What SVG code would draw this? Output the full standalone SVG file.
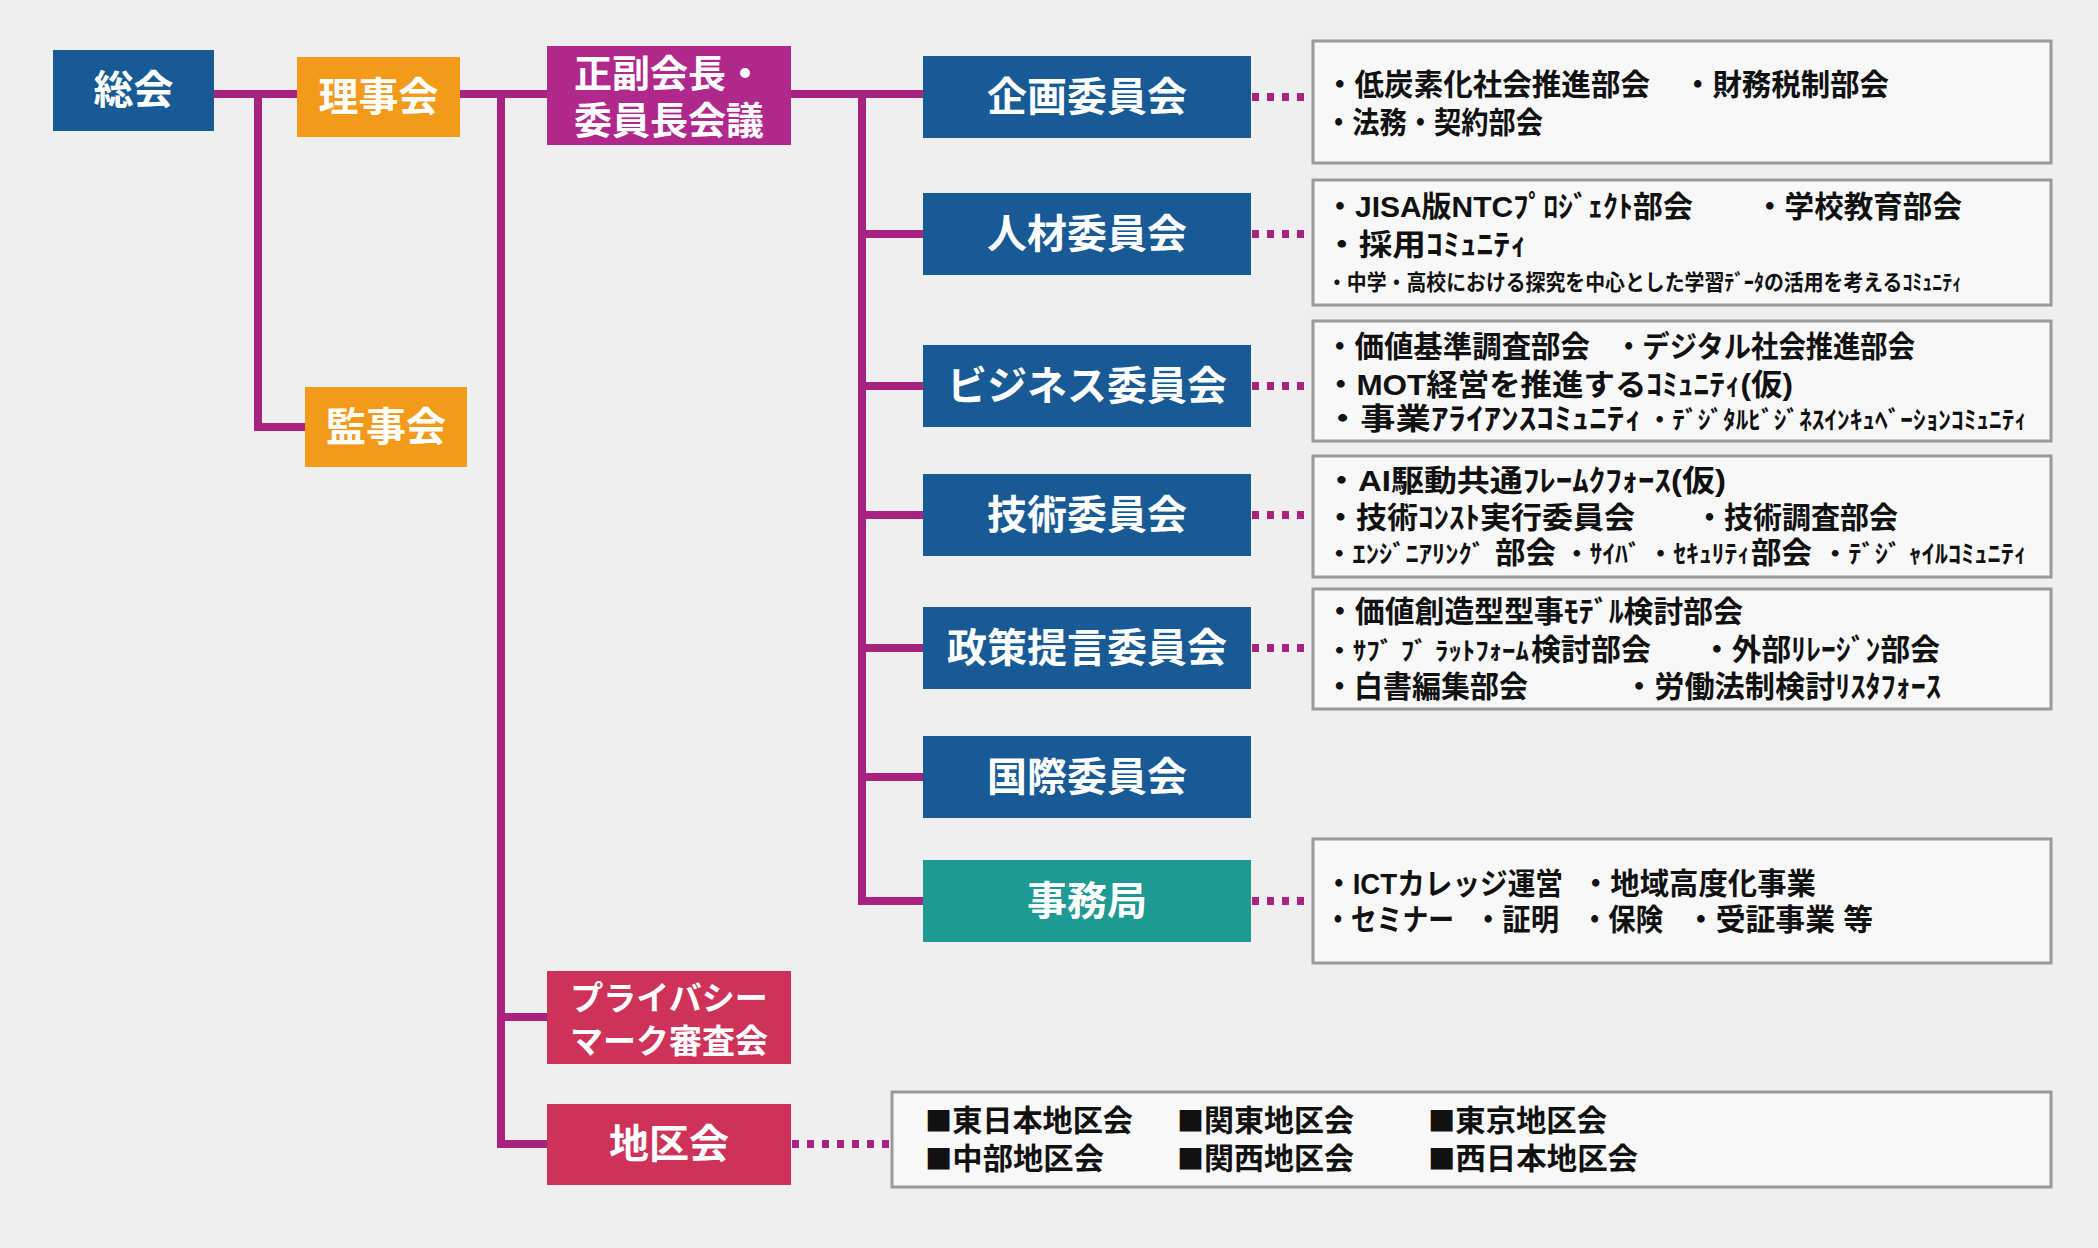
<svg xmlns="http://www.w3.org/2000/svg" width="2098" height="1248" viewBox="0 0 2098 1248">
<style>
.lbl{font-family:"Liberation Sans","Noto Sans CJK JP",sans-serif;font-weight:700;fill:#ffffff;text-anchor:middle}
.blue{fill:#185a96}
.orange{fill:#f39a1b}
.mag{fill:#b0288c}
.teal{fill:#1f9a93}
.red{fill:#cf3259}
.ln{stroke:#a8237f;stroke-width:8;fill:none;stroke-linejoin:miter}
.dot{stroke:#a8237f;stroke-width:8;fill:none;stroke-dasharray:7 8}
.box{fill:#f8f8f8;stroke:#9a9a9a;stroke-width:3}
.t{font-family:"Liberation Sans","Noto Sans CJK JP",sans-serif;font-weight:700;fill:#111111;font-size:30px}
.s{font-size:25px}
.xs{font-size:22px}
.sq{font-family:"Noto Sans CJK JP",sans-serif;font-size:27px}
</style>
<rect x="0" y="0" width="2098" height="1248" fill="#efefef"/>

<g id="connectors">
  <path class="ln" d="M214 94 H923"/>
  <path class="ln" d="M258 94 V427 H305"/>
  <path class="ln" d="M501 94 V1144 H547"/>
  <path class="ln" d="M501 1017 H547"/>
  <path class="ln" d="M862 94 V901 H923"/>
  <path class="ln" d="M862 234 H923"/>
  <path class="ln" d="M862 386 H923"/>
  <path class="ln" d="M862 515 H923"/>
  <path class="ln" d="M862 648 H923"/>
  <path class="ln" d="M862 777 H923"/>
  <path class="dot" d="M1252 97 H1313"/>
  <path class="dot" d="M1252 234 H1313"/>
  <path class="dot" d="M1252 386 H1313"/>
  <path class="dot" d="M1252 515 H1313"/>
  <path class="dot" d="M1252 648 H1313"/>
  <path class="dot" d="M1252 901 H1313"/>
  <path class="dot" d="M792 1144 H892"/>
</g>

<g id="n-soukai"><rect class="blue" x="53" y="50" width="161" height="81"/><text class="lbl" x="133.5" y="104" font-size="40">総会</text></g>
<g id="n-rijikai"><rect class="orange" x="297" y="57" width="163" height="80"/><text class="lbl" x="378.5" y="111" font-size="40">理事会</text></g>
<g id="n-seifuku"><rect class="mag" x="547" y="46" width="244" height="99"/><text class="lbl" x="669" y="87" font-size="38">正副会長・</text><text class="lbl" x="669" y="134" font-size="38">委員長会議</text></g>
<g id="n-kanjikai"><rect class="orange" x="305" y="387" width="162" height="80"/><text class="lbl" x="386" y="441" font-size="40">監事会</text></g>

<g id="n-kikaku"><rect class="blue" x="923" y="56" width="328" height="82"/><text class="lbl" x="1087" y="111" font-size="40">企画委員会</text></g>
<g id="n-jinzai"><rect class="blue" x="923" y="193" width="328" height="82"/><text class="lbl" x="1087" y="248" font-size="40">人材委員会</text></g>
<g id="n-business"><rect class="blue" x="923" y="345" width="328" height="82"/><text class="lbl" x="1087" y="400" font-size="40">ビジネス委員会</text></g>
<g id="n-gijutsu"><rect class="blue" x="923" y="474" width="328" height="82"/><text class="lbl" x="1087" y="529" font-size="40">技術委員会</text></g>
<g id="n-seisaku"><rect class="blue" x="923" y="607" width="328" height="82"/><text class="lbl" x="1087" y="662" font-size="40">政策提言委員会</text></g>
<g id="n-kokusai"><rect class="blue" x="923" y="736" width="328" height="82"/><text class="lbl" x="1087" y="791" font-size="40">国際委員会</text></g>
<g id="n-jimukyoku"><rect class="teal" x="923" y="860" width="328" height="82"/><text class="lbl" x="1087" y="915" font-size="40">事務局</text></g>

<g id="n-privacy"><rect class="red" x="547" y="971" width="244" height="93"/><text class="lbl" x="669" y="1010" font-size="33">プライバシー</text><text class="lbl" x="669" y="1053" font-size="33">マーク審査会</text></g>
<g id="n-chiku"><rect class="red" x="547" y="1104" width="244" height="81"/><text class="lbl" x="669" y="1158" font-size="40">地区会</text></g>

<g id="d-kikaku">
  <rect class="box" x="1313" y="41" width="738" height="122"/>
  <text class="t" x="1325" y="95" textLength="325" lengthAdjust="spacingAndGlyphs">・低炭素化社会推進部会</text>
  <text class="t" x="1683" y="95" textLength="206" lengthAdjust="spacingAndGlyphs">・財務税制部会</text>
  <text class="t" x="1325" y="133" textLength="218" lengthAdjust="spacingAndGlyphs">・法務・契約部会</text>
</g>
<g id="d-jinzai">
  <rect class="box" x="1313" y="180" width="738" height="125"/>
  <text class="t" x="1325" y="217" textLength="368" lengthAdjust="spacingAndGlyphs">・JISA版NTCﾌﾟﾛｼﾞｪｸﾄ部会</text>
  <text class="t" x="1755" y="217" textLength="207" lengthAdjust="spacingAndGlyphs">・学校教育部会</text>
  <text class="t" x="1325" y="255" textLength="202" lengthAdjust="spacingAndGlyphs">・採用ｺﾐｭﾆﾃｨ</text>
  <text class="t xs" x="1327" y="290" textLength="635" lengthAdjust="spacingAndGlyphs">・中学・高校における探究を中心とした学習ﾃﾞｰﾀの活用を考えるｺﾐｭﾆﾃｨ</text>
</g>
<g id="d-business">
  <rect class="box" x="1313" y="321" width="738" height="120"/>
  <text class="t" x="1325" y="357" textLength="265" lengthAdjust="spacingAndGlyphs">・価値基準調査部会</text>
  <text class="t" x="1615" y="357" textLength="300" lengthAdjust="spacingAndGlyphs">・デジタル社会推進部会</text>
  <text class="t" x="1325" y="395" textLength="468" lengthAdjust="spacingAndGlyphs">・MOT経営を推進するｺﾐｭﾆﾃｨ(仮)</text>
  <text class="t" x="1325" y="429" textLength="317" lengthAdjust="spacingAndGlyphs">・事業ｱﾗｲｱﾝｽｺﾐｭﾆﾃｨ</text>
  <text class="t s" x="1647" y="429" textLength="380" lengthAdjust="spacingAndGlyphs">・ﾃﾞｼﾞﾀﾙﾋﾞｼﾞﾈｽｲﾝｷｭﾍﾞｰｼｮﾝｺﾐｭﾆﾃｨ</text>
</g>
<g id="d-gijutsu">
  <rect class="box" x="1313" y="456" width="738" height="121"/>
  <text class="t" x="1325" y="491" textLength="401" lengthAdjust="spacingAndGlyphs">・AI駆動共通ﾌﾚｰﾑｸﾌｫｰｽ(仮)</text>
  <text class="t" x="1325" y="528" textLength="310" lengthAdjust="spacingAndGlyphs">・技術ｺﾝｽﾄ実行委員会</text>
  <text class="t" x="1695" y="528" textLength="203" lengthAdjust="spacingAndGlyphs">・技術調査部会</text>
  <text class="t s" x="1326" y="563" textLength="159" lengthAdjust="spacingAndGlyphs">・ｴﾝｼﾞﾆｱﾘﾝｸﾞ</text>
  <text class="t" x="1495" y="563" textLength="61" lengthAdjust="spacingAndGlyphs">部会</text>
  <text class="t s" x="1564" y="563" textLength="186" lengthAdjust="spacingAndGlyphs">・ｻｲﾊﾞ ・ｾｷｭﾘﾃｨ</text>
  <text class="t" x="1751" y="563" textLength="61" lengthAdjust="spacingAndGlyphs">部会</text>
  <text class="t s" x="1822" y="563" textLength="205" lengthAdjust="spacingAndGlyphs">・ﾃﾞｼﾞ ｬｲﾙｺﾐｭﾆﾃｨ</text>
</g>
<g id="d-seisaku">
  <rect class="box" x="1313" y="589" width="738" height="120"/>
  <text class="t" x="1325" y="622" textLength="418" lengthAdjust="spacingAndGlyphs">・価値創造型型事ﾓﾃﾞﾙ検討部会</text>
  <text class="t s" x="1326" y="660" textLength="203" lengthAdjust="spacingAndGlyphs">・ｻﾌﾞ ﾌﾞ ﾗｯﾄﾌｫｰﾑ</text>
  <text class="t" x="1531" y="660" textLength="120" lengthAdjust="spacingAndGlyphs">検討部会</text>
  <text class="t" x="1702" y="660" textLength="238" lengthAdjust="spacingAndGlyphs">・外部ﾘﾚｰｼﾞﾝ部会</text>
  <text class="t" x="1325" y="697" textLength="203" lengthAdjust="spacingAndGlyphs">・白書編集部会</text>
  <text class="t" x="1624" y="697" textLength="317" lengthAdjust="spacingAndGlyphs">・労働法制検討ﾘｽﾀﾌｫｰｽ</text>
</g>
<g id="d-jimukyoku">
  <rect class="box" x="1313" y="839" width="738" height="124"/>
  <text class="t" x="1325" y="894" textLength="238" lengthAdjust="spacingAndGlyphs">・ICTカレッジ運営</text>
  <text class="t" x="1581" y="894" textLength="235" lengthAdjust="spacingAndGlyphs">・地域高度化事業</text>
  <text class="t" x="1325" y="930" textLength="129" lengthAdjust="spacingAndGlyphs">・セミナー</text>
  <text class="t" x="1474" y="930" textLength="85" lengthAdjust="spacingAndGlyphs">・証明</text>
  <text class="t" x="1581" y="930" textLength="82" lengthAdjust="spacingAndGlyphs">・保険</text>
  <text class="t" x="1686" y="930" textLength="187" lengthAdjust="spacingAndGlyphs">・受証事業 等</text>
</g>
<g id="d-chiku">
  <rect class="box" x="892" y="1092" width="1159" height="95"/>
  <text class="t" x="925" y="1131" textLength="208" lengthAdjust="spacingAndGlyphs"><tspan class="sq">■</tspan>東日本地区会</text>
  <text class="t" x="1177" y="1131" textLength="177" lengthAdjust="spacingAndGlyphs"><tspan class="sq">■</tspan>関東地区会</text>
  <text class="t" x="1428" y="1131" textLength="179" lengthAdjust="spacingAndGlyphs"><tspan class="sq">■</tspan>東京地区会</text>
  <text class="t" x="925" y="1169" textLength="179" lengthAdjust="spacingAndGlyphs"><tspan class="sq">■</tspan>中部地区会</text>
  <text class="t" x="1177" y="1169" textLength="177" lengthAdjust="spacingAndGlyphs"><tspan class="sq">■</tspan>関西地区会</text>
  <text class="t" x="1428" y="1169" textLength="210" lengthAdjust="spacingAndGlyphs"><tspan class="sq">■</tspan>西日本地区会</text>
</g>
</svg>
